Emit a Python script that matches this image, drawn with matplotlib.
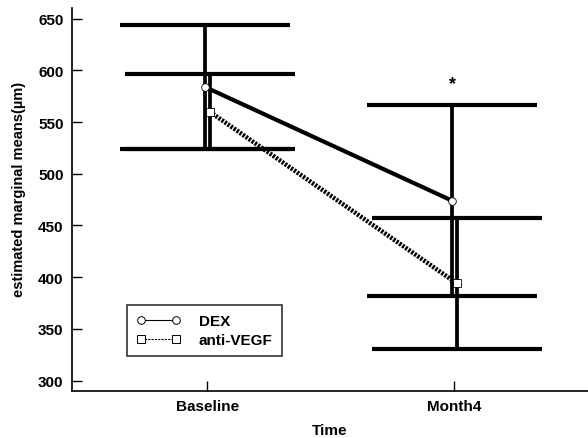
import matplotlib
matplotlib.use("Agg")
import matplotlib.pyplot as plt
from matplotlib.lines import Line2D

plt.rcParams['font.family'] = ['Liberation Sans', 'DejaVu Sans']
plt.rcParams['font.weight'] = 'bold'

# data
times = ['Baseline', 'Month4']
dex_mean = [584, 474]
dex_err = [60, 92]
vegf_mean = [560, 394]
vegf_err = [36, 63]
yticks = [300, 350, 400, 450, 500, 550, 600, 650]

fig = plt.figure(figsize=(5.88, 4.39), dpi=100)
ax = fig.add_axes([0.1224, 0.107, 0.8776, 0.872])

x = [0, 1]
off = 0.01
x_dex = [v - off for v in x]
x_vegf = [v + off for v in x]

cap = 61.5
ax.errorbar(x_dex, dex_mean, yerr=dex_err, fmt='none', ecolor='black',
            elinewidth=2.7, capsize=cap, capthick=3.0, zorder=2)
ax.errorbar(x_vegf, vegf_mean, yerr=vegf_err, fmt='none', ecolor='black',
            elinewidth=2.7, capsize=cap, capthick=3.0, zorder=2)

ax.plot(x_dex, dex_mean, color='black', lw=3.0, solid_capstyle='butt', zorder=3)
ax.plot(x_vegf, vegf_mean, color='black', lw=3.3, linestyle=(0, (0.5, 0.3)),
        dash_capstyle='butt', zorder=3)
ax.plot(x_dex, dex_mean, 'o', ms=5.5, mfc='white', mec='black', mew=0.6, zorder=4)
ax.plot(x_vegf, vegf_mean, 's', ms=5.5, mfc='white', mec='black', mew=0.6, zorder=4)

ax.text(x_dex[1], 587, '*', ha='center', va='center', fontsize=13, fontweight='bold')

ax.set_xlim(-0.547, 1.54)
ax.set_ylim(290, 660)
ax.set_xticks(x)
ax.set_xticklabels(times, fontsize=11, fontweight='bold')
ax.set_yticks(yticks)
ax.set_yticklabels([str(v) for v in yticks], fontsize=11, fontweight='bold')
ax.tick_params(axis='both', direction='in', length=7, width=1, pad=6)
ax.spines['top'].set_visible(False)
ax.spines['right'].set_visible(False)
ax.spines['left'].set_linewidth(1.2)
ax.spines['bottom'].set_linewidth(1.2)

ax.set_xlabel('Time', fontsize=11, fontweight='bold')
ax.xaxis.set_label_coords(0.5, -0.083)
ax.set_ylabel('estimated marginal means(µm)', fontsize=10.5, fontweight='bold')
ax.yaxis.set_label_coords(-0.09, 0.53)

handles = [
    Line2D([0], [0], color='black', lw=0.8, marker='o', ms=5.5, mfc='white', mec='black', mew=0.7),
    Line2D([0], [0], color='black', lw=0.8, ls=(0, (2, 1)), marker='s', ms=5.5, mfc='white',
           mec='black', mew=0.7),
]
leg = ax.legend(handles, ['DEX', 'anti-VEGF'], loc='lower left', bbox_to_anchor=(0.107, 0.091),
                borderaxespad=0, fancybox=False, edgecolor='black', fontsize=11,
                handlelength=2.9, numpoints=2, borderpad=0.6, labelspacing=0.3,
                handletextpad=1.2)
leg.get_frame().set_linewidth(1.2)
for t in leg.get_texts():
    t.set_fontweight('bold')

fig.savefig('out.png', dpi=100)
